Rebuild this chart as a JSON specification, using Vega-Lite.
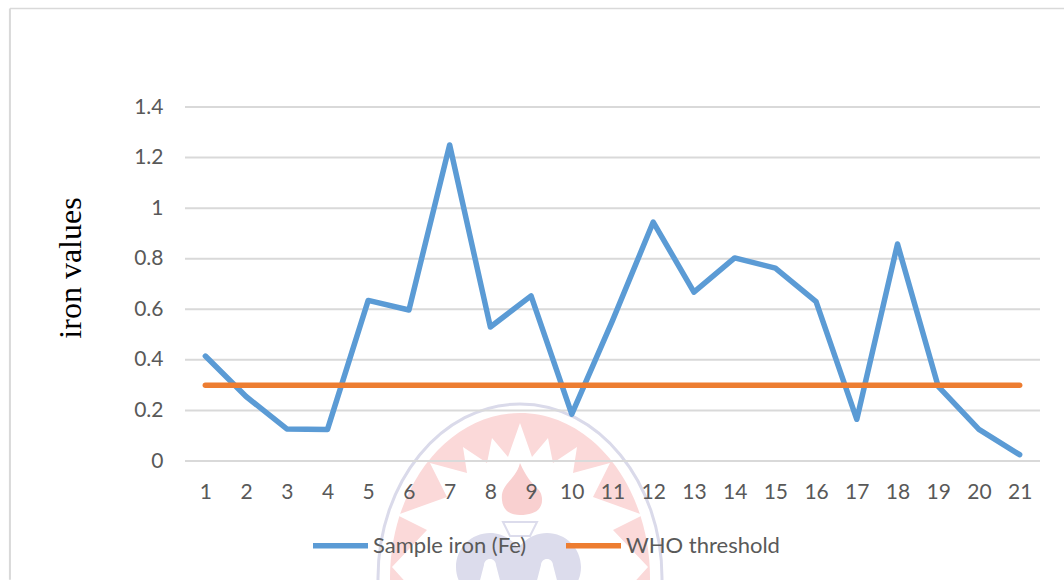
{
 "$schema":"https://vega.github.io/schema/vega-lite/v6.json",
 "width":855,"height":354,
 "autosize":{"type":"none"},
 "padding":{"left":185,"top":107,"right":24,"bottom":119},
 "background":"white",
 "config":{"view":{"stroke":null}},
 "data":{"values":[
 {"n":1,"s":"Sample iron (Fe)","v":0.415},{"n":2,"s":"Sample iron (Fe)","v":0.255},{"n":3,"s":"Sample iron (Fe)","v":0.127},{"n":4,"s":"Sample iron (Fe)","v":0.125},{"n":5,"s":"Sample iron (Fe)","v":0.635},{"n":6,"s":"Sample iron (Fe)","v":0.597},{"n":7,"s":"Sample iron (Fe)","v":1.25},{"n":8,"s":"Sample iron (Fe)","v":0.53},{"n":9,"s":"Sample iron (Fe)","v":0.653},{"n":10,"s":"Sample iron (Fe)","v":0.185},{"n":11,"s":"Sample iron (Fe)","v":0.555},{"n":12,"s":"Sample iron (Fe)","v":0.945},{"n":13,"s":"Sample iron (Fe)","v":0.668},{"n":14,"s":"Sample iron (Fe)","v":0.803},{"n":15,"s":"Sample iron (Fe)","v":0.763},{"n":16,"s":"Sample iron (Fe)","v":0.63},{"n":17,"s":"Sample iron (Fe)","v":0.165},{"n":18,"s":"Sample iron (Fe)","v":0.858},{"n":19,"s":"Sample iron (Fe)","v":0.295},{"n":20,"s":"Sample iron (Fe)","v":0.125},{"n":21,"s":"Sample iron (Fe)","v":0.025},
 {"n":1,"s":"WHO threshold","v":0.3},{"n":2,"s":"WHO threshold","v":0.3},{"n":3,"s":"WHO threshold","v":0.3},{"n":4,"s":"WHO threshold","v":0.3},{"n":5,"s":"WHO threshold","v":0.3},{"n":6,"s":"WHO threshold","v":0.3},{"n":7,"s":"WHO threshold","v":0.3},{"n":8,"s":"WHO threshold","v":0.3},{"n":9,"s":"WHO threshold","v":0.3},{"n":10,"s":"WHO threshold","v":0.3},{"n":11,"s":"WHO threshold","v":0.3},{"n":12,"s":"WHO threshold","v":0.3},{"n":13,"s":"WHO threshold","v":0.3},{"n":14,"s":"WHO threshold","v":0.3},{"n":15,"s":"WHO threshold","v":0.3},{"n":16,"s":"WHO threshold","v":0.3},{"n":17,"s":"WHO threshold","v":0.3},{"n":18,"s":"WHO threshold","v":0.3},{"n":19,"s":"WHO threshold","v":0.3},{"n":20,"s":"WHO threshold","v":0.3},{"n":21,"s":"WHO threshold","v":0.3}
 ]},
 "layer":[
  {"data":{"values":[{}]},
   "encoding":{
     "x":{"datum":8.728,"type":"quantitative","title":null,"scale":{"domain":[0.5,21.5],"nice":false,"zero":false}},
     "y":{"datum":-0.3124,"type":"quantitative","title":null,"scale":{"domain":[0,1.4],"nice":false,"zero":false}}},
   "layer":[
    {"mark":{"type":"point","size":160000,"filled":true,"opacity":1,"fill":"#fbd9d9","stroke":null,"shape":"M-0.65,0.19 A0.65,0.825 0 1 1 0.65,0.19 A0.65,0.825 0 1 1 -0.65,0.19 Z"}},
    {"mark":{"type":"point","size":160000,"filled":false,"opacity":1,"fill":null,"stroke":"#dadaea","strokeWidth":3,"shape":"M-0.71,0.19 A0.71,0.87 0 1 1 0.71,0.19 A0.71,0.87 0 1 1 -0.71,0.19 Z"}},
    {"mark":{"type":"point","size":160000,"filled":true,"opacity":1,"fill":"#ffffff","stroke":null,"shape":"M0,-0.585 L-0.06,-0.415 L-0.14,-0.51 L-0.165,-0.385 L-0.285,-0.465 L-0.265,-0.335 L-0.45,-0.385 L-0.365,-0.215 L-0.615,-0.125 L-0.465,-0.05 L-0.64,0.135 L-0.55,0.235 L0.55,0.235 L0.64,0.135 L0.465,-0.05 L0.615,-0.125 L0.365,-0.215 L0.45,-0.385 L0.265,-0.335 L0.285,-0.465 L0.165,-0.385 L0.14,-0.51 L0.06,-0.415 Z"}},
    {"mark":{"type":"point","size":160000,"filled":true,"opacity":1,"fill":"#f9d0d0","stroke":null,"shape":"M0,-0.385 C-0.02,-0.3 -0.1,-0.28 -0.09,-0.2 C-0.085,-0.14 -0.04,-0.125 0,-0.125 C0.07,-0.125 0.115,-0.15 0.11,-0.21 C0.105,-0.27 0.06,-0.25 0,-0.385 Z"}},
    {"mark":{"type":"point","size":160000,"filled":true,"opacity":1,"fill":"#dcdcec","stroke":null,"shape":"M-0.32,0.135 A0.17,0.17 0 1 1 0.02,0.135 A0.17,0.17 0 1 1 -0.32,0.135 Z M-0.035,0.135 A0.17,0.17 0 1 1 0.305,0.135 A0.17,0.17 0 1 1 -0.035,0.135 Z"}},
    {"mark":{"type":"point","size":160000,"filled":true,"opacity":1,"fill":"#ffffff","stroke":null,"shape":"M-0.18,0.125 A0.03,0.03 0 1 1 -0.12,0.125 L-0.09,0.24 L-0.21,0.24 Z M0.105,0.125 A0.03,0.03 0 1 1 0.165,0.125 L0.195,0.24 L0.075,0.24 Z"}},
    {"mark":{"type":"point","size":160000,"filled":false,"opacity":1,"fill":null,"stroke":"#dcdcec","strokeWidth":2,"shape":"M-0.085,-0.09 L0.085,-0.09 L0.07,-0.06 L0.05,-0.02 L-0.05,-0.02 L-0.07,-0.06 Z"}}
   ]},
  {"data":{"values":[{"g":0},{"g":0.2},{"g":0.4},{"g":0.6},{"g":0.8},{"g":1},{"g":1.2},{"g":1.4}]},
   "mark":{"type":"rule","color":"#d9d9d9","strokeWidth":2},
   "encoding":{"y":{"field":"g","type":"quantitative","title":"iron values"},"x":{"datum":0.5,"type":"quantitative","title":null},"x2":{"datum":21.5}}},
  {"data":{"values":[{}]},"mark":{"type":"rule","color":"#d9d9d9","strokeWidth":1.5},
   "encoding":{"x":{"datum":-3.8,"type":"quantitative","title":null},"y":{"datum":1.79,"type":"quantitative","title":null},"x2":{"datum":22.1}}},
  {"data":{"values":[{}]},"mark":{"type":"rule","color":"#d9d9d9","strokeWidth":2},
   "encoding":{"x":{"datum":-3.8,"type":"quantitative","title":null},"y":{"datum":1.79,"type":"quantitative","title":null},"y2":{"datum":-0.47}}},
  {"mark":{"type":"line","strokeWidth":5.5,"strokeJoin":"round","strokeCap":"round"},
   "encoding":{
    "x":{"field":"n","type":"quantitative",
     "axis":{"title":null,"zindex":1,"values":[1,2,3,4,5,6,7,8,9,10,11,12,13,14,15,16,17,18,19,20,21],"format":"d","grid":false,"domain":false,"ticks":false,"labelFont":"Lato","labelFontSize":21,"labelColor":"#595959","labelPadding":20,"labelOverlap":false}},
    "y":{"field":"v","type":"quantitative",
     "axis":{"title":"iron values","zindex":1,"titleFont":"Liberation Serif","titleFontSize":32,"titleFontWeight":"normal","titleColor":"#000000","titlePadding":46,"titleY":160.5,"titleAlign":"center","values":[0,0.2,0.4,0.6,0.8,1,1.2,1.4],"labelExpr":"datum.value","grid":false,"domain":false,"ticks":false,"labelFont":"Lato","labelFontSize":21,"labelColor":"#595959","labelPadding":22}},
    "color":{"field":"s","type":"nominal","scale":{"domain":["Sample iron (Fe)","WHO threshold"],"range":["#5b9bd5","#ed7d31"]},
     "legend":{"title":null,"orient":"none","legendX":125,"legendY":408,"direction":"horizontal","columns":2,"symbolType":"stroke","symbolSize":3025,"symbolStrokeWidth":5.5,"labelFont":"Lato","labelFontSize":22,"labelColor":"#595959","labelOffset":2,"columnPadding":28}}
   }}
 ]
}
